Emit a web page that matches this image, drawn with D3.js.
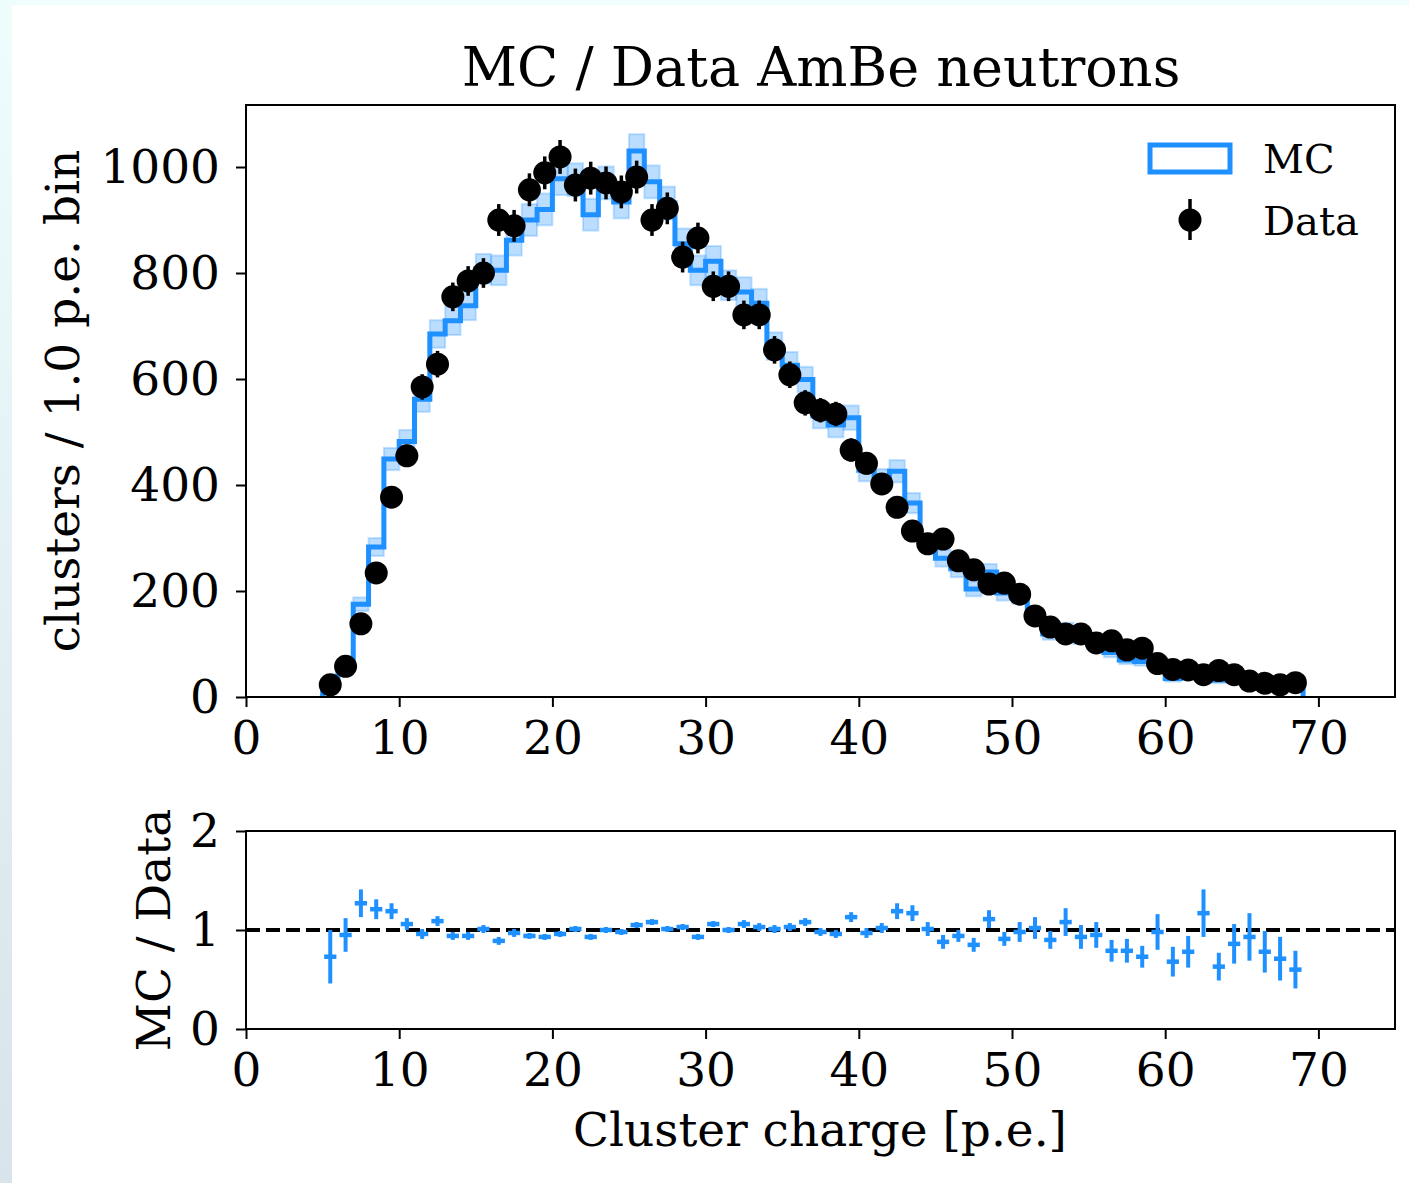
<!DOCTYPE html>
<html lang="en">
<head>
    <meta charset="UTF-8">
    <title>MC / Data AmBe neutrons</title>
    <script src="https://d3js.org/d3.v7.min.js"></script>
    <style>
        body {
            margin: 0;
            width: 1409px;
            height: 1183px;
            overflow: hidden;
            background: linear-gradient(to bottom, #effdfd, #d8e3eb);
            font-family: 'DejaVu Serif', serif;
        }
        .card {
            position: absolute;
            left: 12px;
            top: 5px;
            width: 1397px;
            height: 1178px;
            background: white;
        }
        #chart {
            position: absolute;
            left: 0;
            top: 0;
        }
    </style>
</head>
<body>
<div class="card"></div>
<div id="chart"></div>

<script>
    // bin edges: 1 p.e. bins from 5 to 69
    const binLow = d3.range(5, 69);

    // data counts per bin
    const dataCounts = [23, 58, 138, 234, 377, 455, 585, 628, 755, 785,
        800, 900, 889, 957, 989, 1019, 966, 979, 970, 953,
        981, 900, 922, 830, 866, 775, 775, 721, 721, 655,
        608, 555, 541, 534, 466, 441, 402, 358, 313, 289,
        298, 257, 240, 213, 215, 194, 153, 132, 119, 119,
        102, 106, 89, 92, 63, 52, 51, 42, 50, 42,
        30, 26, 23, 27];
    const dataErr = [5, 8, 12, 15, 19, 21, 24, 25, 27, 28,
        28, 30, 30, 31, 31, 32, 31, 31, 31, 31,
        31, 30, 30, 29, 29, 28, 28, 27, 27, 26,
        25, 24, 23, 23, 22, 21, 20, 19, 18, 17,
        17, 16, 15, 15, 15, 14, 12, 11, 11, 11,
        10, 10, 9, 10, 8, 7, 7, 6, 7, 6,
        5, 5, 5, 5];

    // MC histogram and its uncertainty band
    const mcCounts = [17, 55, 175, 283, 449, 482, 562, 685, 710, 738,
        808, 805, 862, 900, 920, 978, 976, 910, 970, 934,
        1030, 972, 932, 855, 805, 822, 777, 764, 743, 662,
        626, 599, 530, 513, 527, 428, 410, 426, 366, 292,
        262, 242, 204, 236, 196, 190, 156, 119, 129, 111,
        97, 84, 70, 67, 62, 35, 40, 49, 32, 36,
        28, 20, 16, 16];
    const mcErr = [4, 7, 13, 17, 21, 22, 24, 26, 27, 27,
        28, 28, 29, 30, 30, 31, 31, 30, 31, 31,
        32, 31, 31, 29, 28, 29, 28, 28, 27, 26,
        25, 24, 23, 23, 23, 21, 20, 21, 19, 17,
        16, 16, 14, 15, 14, 14, 12, 11, 11, 11,
        10, 9, 8, 8, 8, 6, 6, 7, 6, 6,
        5, 4, 4, 4];

    // MC / Data ratio
    const ratio = [0.73, 0.95, 1.27, 1.21, 1.19, 1.06, 0.96, 1.09, 0.94, 0.94,
        1.01, 0.89, 0.97, 0.94, 0.93, 0.96, 1.01, 0.93, 1.00, 0.98,
        1.05, 1.08, 1.01, 1.03, 0.93, 1.06, 1.00, 1.06, 1.03, 1.01,
        1.03, 1.08, 0.98, 0.96, 1.13, 0.97, 1.02, 1.19, 1.17, 1.01,
        0.88, 0.94, 0.85, 1.11, 0.91, 0.98, 1.02, 0.90, 1.08, 0.93,
        0.95, 0.79, 0.79, 0.73, 0.98, 0.68, 0.78, 1.17, 0.63, 0.86,
        0.93, 0.78, 0.71, 0.60];
    const ratioErr = [0.27, 0.17, 0.14, 0.10, 0.08, 0.06, 0.05, 0.05, 0.04, 0.04,
        0.04, 0.04, 0.04, 0.03, 0.03, 0.03, 0.03, 0.03, 0.03, 0.03,
        0.03, 0.03, 0.03, 0.03, 0.03, 0.03, 0.03, 0.04, 0.04, 0.04,
        0.04, 0.04, 0.04, 0.04, 0.05, 0.05, 0.05, 0.08, 0.08, 0.07,
        0.07, 0.06, 0.07, 0.09, 0.07, 0.10, 0.11, 0.09, 0.14, 0.12,
        0.13, 0.11, 0.12, 0.11, 0.18, 0.15, 0.16, 0.24, 0.14, 0.20,
        0.24, 0.21, 0.22, 0.19];

    const xTicks = [0, 10, 20, 30, 40, 50, 60, 70];
    const yTicksTop = [0, 200, 400, 600, 800, 1000];
    const yTicksBottom = [0, 1, 2];

    const bins = binLow.map((lo, i) => ({
        lo: lo, hi: lo + 1, mid: lo + 0.5,
        data: dataCounts[i], dErr: dataErr[i],
        mc: mcCounts[i], mErr: mcErr[i],
        r: ratio[i], rErr: ratioErr[i]
    }));

    const blue = "#1e90ff";
    const width = 1409, height = 1183;
    const left = 246, right = 1395;
    const top1 = 105, bottom1 = 697;
    const top2 = 831, bottom2 = 1029;
    const fontSize = "47px";

    const svg = d3.select("#chart").append("svg")
        .attr("width", width)
        .attr("height", height)
        .style("font-family", "'DejaVu Serif', serif");

    const x = d3.scaleLinear().domain([0, 75]).range([left, right]);
    const y1 = d3.scaleLinear().domain([0, 1117]).range([bottom1, top1]);
    const y2 = d3.scaleLinear().domain([0, 2]).range([bottom2, top2]);

    // clip paths so marks stay inside the frames
    const defs = svg.append("defs");
    defs.append("clipPath").attr("id", "clipTop").append("rect")
        .attr("x", left).attr("y", top1).attr("width", right - left).attr("height", bottom1 - top1);
    defs.append("clipPath").attr("id", "clipBottom").append("rect")
        .attr("x", left).attr("y", top2).attr("width", right - left).attr("height", bottom2 - top2);

    // ---- top panel ----
    const gTop = svg.append("g").attr("clip-path", "url(#clipTop)");

    // MC uncertainty band
    gTop.selectAll("rect.band")
        .data(bins)
        .join("rect")
        .attr("class", "band")
        .attr("x", d => x(d.lo))
        .attr("width", d => x(d.hi) - x(d.lo))
        .attr("y", d => y1(d.mc + d.mErr))
        .attr("height", d => y1(d.mc - d.mErr) - y1(d.mc + d.mErr))
        .attr("fill", blue)
        .attr("fill-opacity", 0.3)
        .attr("stroke", blue)
        .attr("stroke-opacity", 0.25)
        .attr("stroke-width", 2);

    // MC step histogram
    let stepPath = `M${x(bins[0].lo)},${y1(0)}`;
    bins.forEach(d => {
        stepPath += `V${y1(d.mc)}H${x(d.hi)}`;
    });
    stepPath += `V${y1(0)}`;
    gTop.append("path")
        .attr("d", stepPath)
        .attr("fill", "none")
        .attr("stroke", blue)
        .attr("stroke-width", 5)
        .attr("stroke-linejoin", "miter");

    // data error bars and markers
    gTop.selectAll("line.derr")
        .data(bins)
        .join("line")
        .attr("class", "derr")
        .attr("x1", d => x(d.mid)).attr("x2", d => x(d.mid))
        .attr("y1", d => y1(d.data - d.dErr))
        .attr("y2", d => y1(d.data + d.dErr))
        .attr("stroke", "black")
        .attr("stroke-width", 3.5);

    gTop.selectAll("circle.dot")
        .data(bins)
        .join("circle")
        .attr("class", "dot")
        .attr("cx", d => x(d.mid))
        .attr("cy", d => y1(d.data))
        .attr("r", 11.5)
        .attr("fill", "black");

    // ---- bottom panel ----
    const gBot = svg.append("g").attr("clip-path", "url(#clipBottom)");

    gBot.append("line")
        .attr("x1", left).attr("x2", right)
        .attr("y1", y2(1)).attr("y2", y2(1))
        .attr("stroke", "black")
        .attr("stroke-width", 4)
        .attr("stroke-dasharray", "14,6");

    gBot.selectAll("line.rerr")
        .data(bins)
        .join("line")
        .attr("class", "rerr")
        .attr("x1", d => x(d.mid)).attr("x2", d => x(d.mid))
        .attr("y1", d => y2(d.r - d.rErr))
        .attr("y2", d => y2(d.r + d.rErr))
        .attr("stroke", blue)
        .attr("stroke-width", 4);

    gBot.selectAll("line.rx")
        .data(bins)
        .join("line")
        .attr("class", "rx")
        .attr("x1", d => x(d.mid - 0.4)).attr("x2", d => x(d.mid + 0.4))
        .attr("y1", d => y2(d.r)).attr("y2", d => y2(d.r))
        .attr("stroke", blue)
        .attr("stroke-width", 4.5);

    // ---- axes ----
    function styleAxis(g) {
        g.selectAll("path.domain").remove();
        g.selectAll(".tick line").attr("stroke", "black").attr("stroke-width", 2);
        g.selectAll(".tick text")
            .attr("fill", "black")
            .style("font-family", "'DejaVu Serif', serif")
            .style("font-size", fontSize);
    }

    svg.append("g")
        .attr("transform", `translate(0,${bottom1})`)
        .call(d3.axisBottom(x).tickValues(xTicks).tickSize(10).tickPadding(14).tickFormat(d3.format("d")))
        .call(styleAxis);
    svg.append("g")
        .attr("transform", `translate(${left},0)`)
        .call(d3.axisLeft(y1).tickValues(yTicksTop).tickSize(10).tickPadding(16).tickFormat(d3.format("d")))
        .call(styleAxis);
    svg.append("g")
        .attr("transform", `translate(0,${bottom2})`)
        .call(d3.axisBottom(x).tickValues(xTicks).tickSize(10).tickPadding(14).tickFormat(d3.format("d")))
        .call(styleAxis);
    svg.append("g")
        .attr("transform", `translate(${left},0)`)
        .call(d3.axisLeft(y2).tickValues(yTicksBottom).tickSize(10).tickPadding(16).tickFormat(d3.format("d")))
        .call(styleAxis);

    // frames
    [[top1, bottom1], [top2, bottom2]].forEach(([t, b]) => {
        svg.append("rect")
            .attr("x", left).attr("y", t)
            .attr("width", right - left).attr("height", b - t)
            .attr("fill", "none")
            .attr("stroke", "black")
            .attr("stroke-width", 2);
    });

    // ---- texts ----
    svg.append("text")
        .attr("x", 821).attr("y", 86)
        .attr("text-anchor", "middle")
        .style("font-size", "54px")
        .text("MC / Data AmBe neutrons");

    svg.append("text")
        .attr("transform", `translate(79,${(top1 + bottom1) / 2}) rotate(-90)`)
        .attr("text-anchor", "middle")
        .style("font-size", fontSize)
        .text("clusters / 1.0 p.e. bin");

    svg.append("text")
        .attr("transform", `translate(170,${(top2 + bottom2) / 2}) rotate(-90)`)
        .attr("text-anchor", "middle")
        .style("font-size", fontSize)
        .text("MC / Data");

    svg.append("text")
        .attr("x", 820).attr("y", 1146)
        .attr("text-anchor", "middle")
        .style("font-size", fontSize)
        .text("Cluster charge [p.e.]");

    // ---- legend ----
    const legend = svg.append("g");
    legend.append("rect")
        .attr("x", 1150).attr("y", 145)
        .attr("width", 80).attr("height", 27)
        .attr("fill", "white")
        .attr("stroke", blue)
        .attr("stroke-width", 5);
    legend.append("text")
        .attr("x", 1263).attr("y", 173)
        .style("font-size", "40px")
        .text("MC");
    legend.append("line")
        .attr("x1", 1190).attr("x2", 1190)
        .attr("y1", 199).attr("y2", 240)
        .attr("stroke", "black").attr("stroke-width", 3.5);
    legend.append("circle")
        .attr("cx", 1190).attr("cy", 220).attr("r", 11.5)
        .attr("fill", "black");
    legend.append("text")
        .attr("x", 1263).attr("y", 235)
        .style("font-size", "40px")
        .text("Data");
</script>
</body>
</html>
